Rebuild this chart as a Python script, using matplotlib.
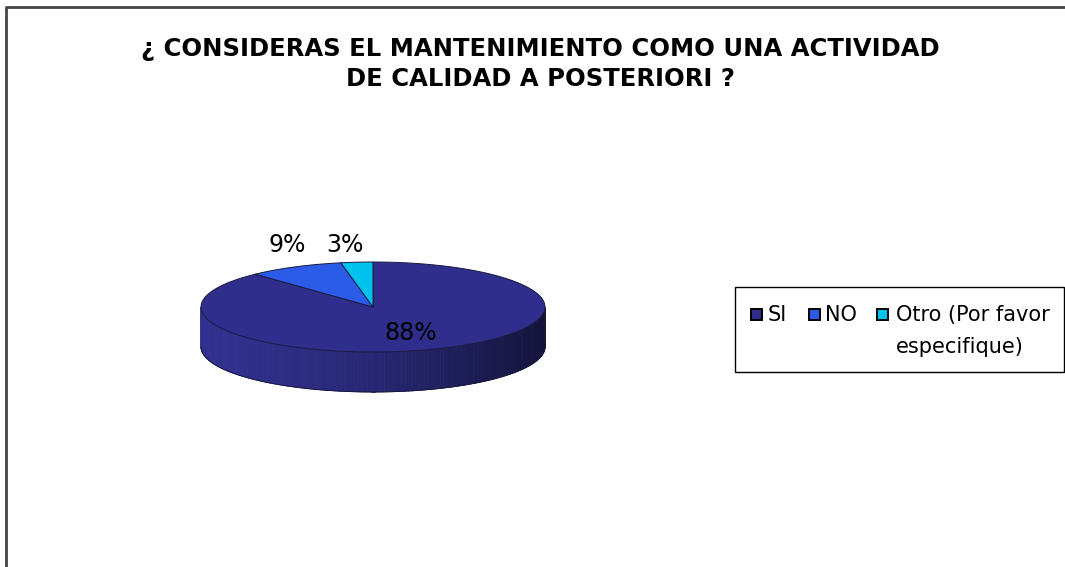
import numpy as np
import matplotlib
matplotlib.use('Agg')
import matplotlib.pyplot as plt
from matplotlib.patches import Polygon, Rectangle

# Data
categories = ['SI', 'NO', 'Otro (Por favor\nespecifique)']
values = [88, 9, 3]
pct_labels = ['88%', '9%', '3%']
colors = ['#2f2e8c', '#2b5ce8', '#00c2ee']
title = '¿ CONSIDERAS EL MANTENIMIENTO COMO UNA ACTIVIDAD\nDE CALIDAD A POSTERIORI ?'

W, H = 1065, 567
fig = plt.figure(figsize=(W / 100, H / 100), dpi=100)
ax = fig.add_axes([0, 0, 1, 1])
ax.set_xlim(0, W)
ax.set_ylim(H, 0)
ax.axis('off')

# chart frame (only top and left edges are visible)
ax.plot([6, 6, W + 5], [H + 5, 7, 7], color='#444444', lw=2, solid_capstyle='butt')

# pie geometry, pixel units, angles clockwise from 12 o'clock
cx, cy, rx, ry, depth = 373, 307, 172, 45, 40


def pt(theta, dy=0):
    return cx + rx * np.sin(theta), cy - ry * np.cos(theta) + dy


fracs = np.array(values, dtype=float) / np.sum(values)
bounds = np.concatenate([[0], np.cumsum(fracs)]) * 2 * np.pi

# side wall: front half only (theta between pi/2 and 3pi/2), shaded left->right
side_dark = np.array(matplotlib.colors.to_rgb('#13133a'))
side_light = np.array(matplotlib.colors.to_rgb('#30308e'))
n = 160
for i in range(len(values)):
    a0 = max(bounds[i], np.pi / 2)
    a1 = min(bounds[i + 1], 3 * np.pi / 2)
    if a1 <= a0:
        continue
    base = np.array(matplotlib.colors.to_rgb(colors[i]))
    ts = np.linspace(a0, a1, n)
    for t0, t1 in zip(ts[:-1], ts[1:]):
        x0, y0 = pt(t0)
        x1, y1 = pt(t1)
        xm = (x0 + x1) / 2
        f = np.clip((xm - (cx - rx)) / (2 * rx), 0, 1)
        c = side_light * (1 - f ** 1.6) + side_dark * f ** 1.6
        if i > 0:
            c = base * 0.6
        ax.add_patch(Polygon([(x0, y0), (x1, y1), (x1, y1 + depth), (x0, y0 + depth)],
                             closed=True, facecolor=c, edgecolor=c, lw=0.6))

# top faces
for i in range(len(values)):
    ts = np.linspace(bounds[i], bounds[i + 1], 200)
    xs, ys = pt(ts)
    verts = [(cx, cy)] + list(zip(xs, ys))
    ax.add_patch(Polygon(verts, closed=True, facecolor=colors[i],
                         edgecolor='#1a1a40', lw=0.7))

# outline of side wall bottom
tb = np.linspace(np.pi / 2, 3 * np.pi / 2, 200)
xb, yb = pt(tb, depth)
ax.plot(xb, yb, color='#15153a', lw=0.6)

# percentage labels
label_pos = [(411, 333), (287, 245), (345, 245)]
for lab, (lx, ly) in zip(pct_labels, label_pos):
    ax.text(lx, ly, lab, fontsize=17, ha='center', va='center', color='black')

# title
ax.text(540, 64, title, fontsize=17.5, fontweight='bold', ha='center', va='center',
        linespacing=1.3)

# legend
ax.add_patch(Rectangle((735, 287), 329, 85, facecolor='white', edgecolor='black', lw=1))
leg_x = [756, 814, 882]
text_x = [768, 825, 896]
for i in range(len(categories)):
    ax.add_patch(Rectangle((leg_x[i] - 5.5, 309), 11, 11, facecolor=colors[i],
                           edgecolor='black', lw=1.4))
    ax.text(text_x[i], 315, categories[i].split('\n')[0], fontsize=15,
            ha='left', va='center')
ax.text(text_x[2], 347, categories[2].split('\n')[1], fontsize=15, ha='left', va='center')

fig.savefig('out.png', dpi=100)
